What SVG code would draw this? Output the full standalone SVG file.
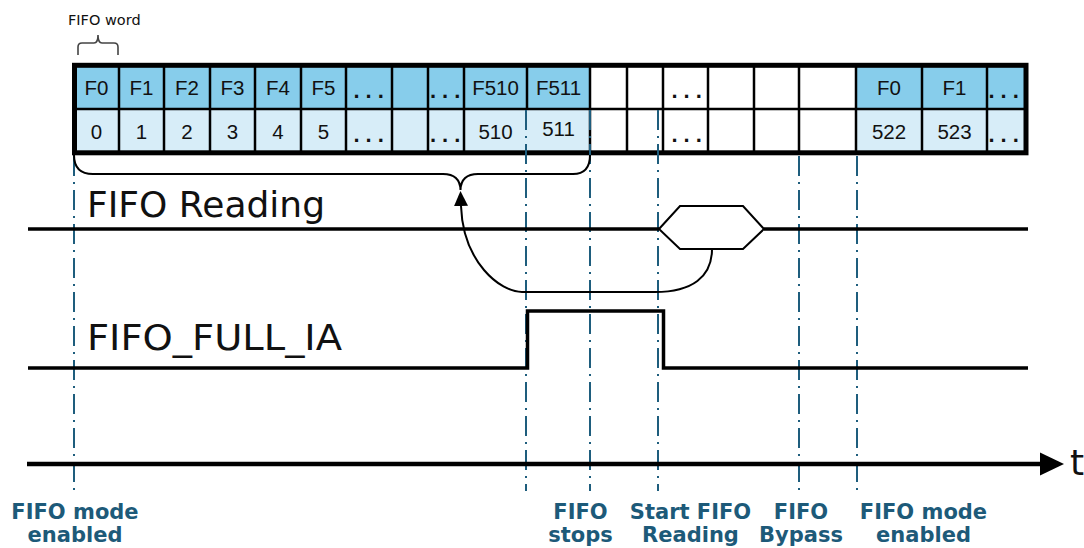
<svg xmlns="http://www.w3.org/2000/svg" width="1084" height="548" viewBox="0 0 1084 548">
<style>
.cellA{fill:#87CDEB;stroke:none}
.cellB{fill:#D7EDF8;stroke:none}
.cellW{fill:#FFFFFF;stroke:none}
.sep{stroke:#000;stroke-width:2.5}
.ct{font-family:"Liberation Sans",Arial,sans-serif;font-size:20.5px;fill:#111;text-anchor:middle}
.dots{font-family:"Liberation Sans",Arial,sans-serif;font-size:22px;font-weight:bold;fill:#111;letter-spacing:6px}
.sig{fill:none;stroke:#000;stroke-width:3.5}
.mark{fill:none;stroke:#1E5D7D;stroke-width:2;stroke-dasharray:20 6 2 6}
.big{font-family:"DejaVu Sans",Verdana,sans-serif;font-size:36px;fill:#111}
.lbl{font-family:"DejaVu Sans",Verdana,sans-serif;font-size:21px;font-weight:bold;fill:#1D5A79;text-anchor:middle}
.conn{fill:none;stroke:#000;stroke-width:2}
</style>
<defs>
<marker id="arr" markerUnits="userSpaceOnUse" markerWidth="15" markerHeight="14" refX="0" refY="7" orient="auto">
<path d="M0,0 L15,7 L0,14 z" fill="#000"/>
</marker>
</defs>

<g id="fifo-word-label">
<text x="68" y="25" font-family="DejaVu Sans, Verdana, sans-serif" font-size="14.5" fill="#111">FIFO word</text>
<path d="M78 55 L78 47 Q78 43 82 43 L94 43 Q98 43 98 35 Q98 43 102 43 L114 43 Q118 43 118 47 L118 55" fill="none" stroke="#444" stroke-width="1.6"/>
</g>

<g id="fifo-memory">
<rect class="cellA" x="74" y="65" width="453" height="44"/>
<rect class="cellB" x="74" y="109" width="453" height="44"/>
<rect class="cellA" x="527" y="65" width="63" height="44"/>
<rect class="cellB" x="527" y="109" width="63" height="44"/>
<rect class="cellW" x="590" y="65" width="266" height="88"/>
<rect class="cellA" x="856" y="65" width="170" height="44"/>
<rect class="cellB" x="856" y="109" width="170" height="44"/>
<line class="sep" x1="74" y1="109" x2="1026" y2="109"/>
<g>
<line class="sep" x1="119" y1="65" x2="119" y2="153"/>
<line class="sep" x1="164" y1="65" x2="164" y2="153"/>
<line class="sep" x1="210" y1="65" x2="210" y2="153"/>
<line class="sep" x1="255" y1="65" x2="255" y2="153"/>
<line class="sep" x1="301" y1="65" x2="301" y2="153"/>
<line class="sep" x1="346" y1="65" x2="346" y2="153"/>
<line class="sep" x1="392" y1="65" x2="392" y2="153"/>
<line class="sep" x1="428" y1="65" x2="428" y2="153"/>
<line class="sep" x1="464" y1="65" x2="464" y2="153"/>
<line class="sep" x1="527" y1="65" x2="527" y2="109"/>
<line class="sep" x1="590" y1="65" x2="590" y2="153"/>
<line class="sep" x1="627" y1="65" x2="627" y2="153"/>
<line class="sep" x1="663" y1="65" x2="663" y2="153"/>
<line class="sep" x1="708" y1="65" x2="708" y2="153"/>
<line class="sep" x1="754" y1="65" x2="754" y2="153"/>
<line class="sep" x1="799" y1="65" x2="799" y2="153"/>
<line class="sep" x1="856" y1="65" x2="856" y2="153"/>
<line class="sep" x1="922" y1="65" x2="922" y2="153"/>
<line class="sep" x1="987" y1="65" x2="987" y2="153"/>
</g>
<g>
<text class="ct" x="96.5" y="95">F0</text>
<text class="ct" x="141.5" y="95">F1</text>
<text class="ct" x="187" y="95">F2</text>
<text class="ct" x="232.5" y="95">F3</text>
<text class="ct" x="278" y="95">F4</text>
<text class="ct" x="323.5" y="95">F5</text>
<text class="ct" x="495.5" y="95">F510</text>
<text class="ct" x="558.5" y="95">F511</text>
<text class="ct" x="889" y="95">F0</text>
<text class="ct" x="954.5" y="95">F1</text>
<text class="ct" x="96.5" y="139">0</text>
<text class="ct" x="141.5" y="139">1</text>
<text class="ct" x="187" y="139">2</text>
<text class="ct" x="232.5" y="139">3</text>
<text class="ct" x="278" y="139">4</text>
<text class="ct" x="323.5" y="139">5</text>
<text class="ct" x="495.5" y="139">510</text>
<text class="ct" x="558.5" y="136">511</text>
<text class="ct" x="889" y="139">522</text>
<text class="ct" x="954.5" y="139">523</text>
<text class="dots" x="353.5" y="98">...</text>
<text class="dots" x="430" y="98">...</text>
<text class="dots" x="671.5" y="98">...</text>
<text class="dots" x="988.5" y="98">...</text>
<text class="dots" x="353.5" y="142">...</text>
<text class="dots" x="430" y="142">...</text>
<text class="dots" x="671.5" y="142">...</text>
<text class="dots" x="988.5" y="142">...</text>
</g>
<rect x="74.5" y="65.3" width="951.5" height="87.5" fill="none" stroke="#000" stroke-width="5"/>
</g>

<g id="event-markers">
<line class="mark" x1="74" y1="156" x2="74" y2="491"/>
<line class="mark" x1="526" y1="110" x2="526" y2="491"/>
<line class="mark" x1="590" y1="110" x2="590" y2="491"/>
<line class="mark" x1="658" y1="110" x2="658" y2="491"/>
<line class="mark" x1="799" y1="156" x2="799" y2="491"/>
<line class="mark" x1="857" y1="156" x2="857" y2="491"/>
</g>

<g id="fifo-reading">
<text class="big" x="87" y="217" textLength="238" lengthAdjust="spacingAndGlyphs">FIFO Reading</text>
<polyline class="sig" points="28,229 659,229"/>
<polyline class="sig" points="764,229 1028,229"/>
<polygon points="659,229 680,206 743,206 764,229 743,249 680,249" fill="#fff" stroke="#000" stroke-width="2"/>
</g>

<g id="fifo-full-ia">
<text class="big" x="87" y="350" font-size="35" textLength="255" lengthAdjust="spacingAndGlyphs">FIFO_FULL_IA</text>
<polyline class="sig" points="28,368 527.5,368 527.5,311 663.5,311 663.5,368 1028,368"/>
</g>

<g id="time-axis">
<line x1="27" y1="464" x2="1042" y2="464" stroke="#000" stroke-width="4.5"/>
<polygon points="1040,452.5 1064,464 1040,475.5" fill="#000"/>
<text class="big" x="1070" y="475">t</text>
</g>

<g id="connectors">
<path class="conn" d="M74 155 Q74 174 93 174 L443 174 Q460 174 460.5 190 Q461 174 478 174 L573 174 Q590 174 590 155"/>
<path class="conn" d="M712 249 C712 277 692 292 655 292 L522 292 C500 292 463 262 461 206" marker-end="url(#arr)"/>
</g>

<g id="event-labels">
<text class="lbl" x="75" y="519">FIFO mode</text>
<text class="lbl" x="75" y="542">enabled</text>
<text class="lbl" x="580.5" y="519">FIFO</text>
<text class="lbl" x="580.5" y="542">stops</text>
<text class="lbl" x="690.5" y="519">Start FIFO</text>
<text class="lbl" x="690.5" y="542">Reading</text>
<text class="lbl" x="801" y="519">FIFO</text>
<text class="lbl" x="801" y="542">Bypass</text>
<text class="lbl" x="923.5" y="519">FIFO mode</text>
<text class="lbl" x="923.5" y="542">enabled</text>
</g>
</svg>
